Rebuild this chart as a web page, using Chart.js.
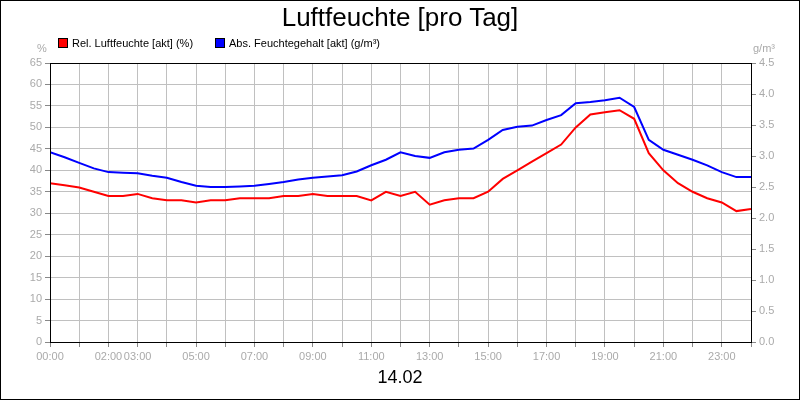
<!DOCTYPE html>
<html>
<head>
<meta charset="utf-8">
<script src="https://cdn.jsdelivr.net/npm/chart.js@4/dist/chart.umd.min.js"></script>
<style>
  body { margin: 0; font-family: "Liberation Sans", Arial, sans-serif; }
  #wrap { position: relative; width: 800px; height: 400px; }
  .t { position: absolute; white-space: nowrap; }
  .sw { display: inline-block; width: 8px; height: 8px; border: 1px solid #000; margin-right: 4px; vertical-align: -1px; }
</style>
</head>
<body>
<div id="wrap">
  <canvas id="c" width="800" height="400"></canvas>
  <div class="t" style="left:0;width:800px;top:2px;text-align:center;font-size:26px;">Luftfeuchte [pro Tag]</div>
  <div class="t" style="left:58px;top:37px;font-size:11px;"><span class="sw" style="background:#f00"></span>Rel. Luftfeuchte [akt] (%)</div>
  <div class="t" style="left:215px;top:37px;font-size:11px;"><span class="sw" style="background:#00f"></span>Abs. Feuchtegehalt [akt] (g/m³)</div>
  <div class="t" style="left:37px;top:42px;font-size:11px;color:#aaa;">%</div>
  <div class="t" style="left:753px;top:42px;font-size:11px;color:#aaa;">g/m³</div>
  <div class="t" style="left:0;width:800px;top:367px;text-align:center;font-size:18px;">14.02</div>
</div>
<script>
// Stunden (halbstündlich)
const hours = [0,0.5,1,1.5,2,2.5,3,3.5,4,4.5,5,5.5,6,6.5,7,7.5,8,8.5,9,9.5,10,10.5,11,11.5,12,12.5,13,13.5,14,14.5,15,15.5,16,16.5,17,17.5,18,18.5,19,19.5,20,20.5,21,21.5,22,22.5,23,23.5,24];
const relHum = [37,36.5,36,35,34,34,34.5,33.5,33,33,32.5,33,33,33.5,33.5,33.5,34,34,34.5,34,34,34,33,35,34,35,32,33,33.5,33.5,35,38,40,42,44,46,50,53,53.5,54,52,44,40,37,35,33.5,32.5,30.5,31];
const absHum = [3.06,2.98,2.89,2.8,2.74,2.73,2.72,2.68,2.65,2.58,2.52,2.5,2.5,2.51,2.52,2.55,2.58,2.62,2.65,2.67,2.69,2.75,2.85,2.94,3.06,3.0,2.97,3.06,3.1,3.12,3.26,3.42,3.47,3.49,3.58,3.66,3.85,3.87,3.9,3.94,3.79,3.26,3.1,3.02,2.94,2.85,2.74,2.66,2.66];
const xLabels = {0:'00:00',2:'02:00',3:'03:00',5:'05:00',7:'07:00',9:'09:00',11:'11:00',13:'13:00',15:'15:00',17:'17:00',19:'19:00',21:'21:00',23:'23:00'};

const frame = {
  id: 'frame',
  afterDraw(chart) {
    const { ctx, chartArea: a } = chart;
    ctx.save();
    ctx.strokeStyle = '#000';
    ctx.lineWidth = 1;
    ctx.strokeRect(a.left + 0.5, a.top + 0.5, a.right - a.left, a.bottom - a.top);
    ctx.strokeRect(0.5, 0.5, 799, 399);
    ctx.restore();
  }
};

const tickFont = { family: 'Liberation Sans', size: 11 };
new Chart(document.getElementById('c'), {
  type: 'line',
  data: {
    datasets: [
      { data: hours.map((h, i) => ({ x: h, y: relHum[i] })), borderColor: '#f00', borderWidth: 2, pointRadius: 0, yAxisID: 'y' },
      { data: hours.map((h, i) => ({ x: h, y: absHum[i] })), borderColor: '#00f', borderWidth: 2, pointRadius: 0, yAxisID: 'y2' }
    ]
  },
  options: {
    responsive: false,
    animation: false,
    layout: { padding: { top: 63 } },
    plugins: { legend: { display: false }, tooltip: { enabled: false } },
    scales: {
      x: {
        type: 'linear', min: 0, max: 24,
        afterFit: (s) => { s.height = 58; },
        ticks: { stepSize: 1, autoSkip: false, maxRotation: 0, color: '#aaa', font: tickFont, callback: (v) => xLabels[v] || '' },
        grid: { color: '#c0c0c0', tickLength: 5, tickColor: '#888' },
        border: { color: '#000' }
      },
      y: {
        position: 'left', min: 0, max: 65,
        afterFit: (s) => { s.width = 50; },
        ticks: { stepSize: 5, color: '#aaa', font: tickFont },
        grid: { color: '#c0c0c0', tickLength: 5, tickColor: '#888' },
        border: { color: '#000' }
      },
      y2: {
        position: 'right', min: 0, max: 4.5,
        afterFit: (s) => { s.width = 49; },
        ticks: { stepSize: 0.5, color: '#aaa', font: tickFont, callback: (v) => v.toFixed(1) },
        grid: { drawOnChartArea: false, tickLength: 5, tickColor: '#888' },
        border: { color: '#000' }
      }
    }
  },
  plugins: [frame]
});
</script>
</body>
</html>
